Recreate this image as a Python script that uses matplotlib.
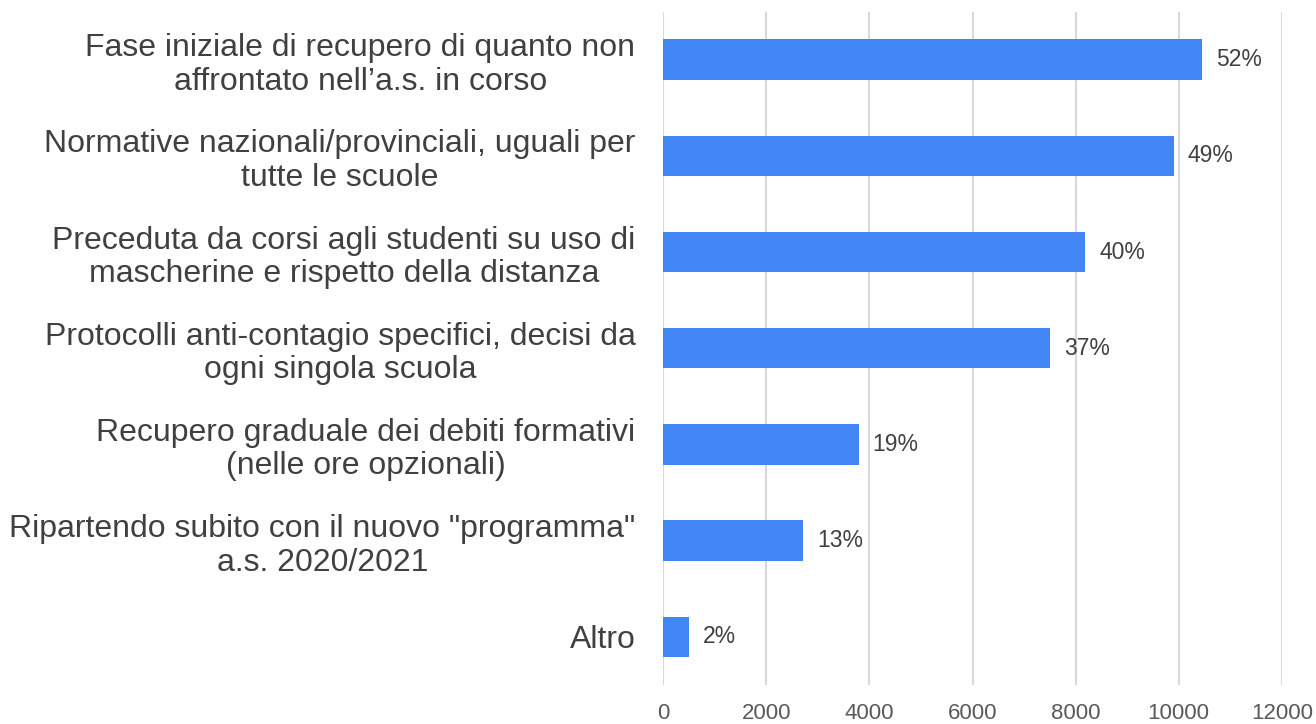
import matplotlib.pyplot as plt
import numpy as np

plt.rcParams['font.family'] = ['Liberation Sans', 'DejaVu Sans']

# Risposte (conteggi) e quota percentuale per modalita di ripartenza
categories = [
    "Fase iniziale di recupero di quanto non\naffrontato nell\u2019a.s. in corso",
    "Normative nazionali/provinciali, uguali per\ntutte le scuole",
    "Preceduta da corsi agli studenti su uso di\nmascherine e rispetto della distanza",
    "Protocolli anti-contagio specifici, decisi da\nogni singola scuola",
    "Recupero graduale dei debiti formativi\n(nelle ore opzionali)",
    "Ripartendo subito con il nuovo \"programma\"\na.s. 2020/2021",
    "Altro",
]
counts = [10450, 9900, 8190, 7510, 3790, 2720, 490]
percents = [52, 49, 40, 37, 19, 13, 2]
xticks = [0, 2000, 4000, 6000, 8000, 10000, 12000]

fig = plt.figure(figsize=(13.16, 7.24), dpi=100)
ax = fig.add_axes([0.504, 0.054, 0.470, 0.930])

y = np.arange(len(categories))
bars = ax.barh(y, counts, height=0.42, color='#4285F4', zorder=3)

for rect, pct in zip(bars, percents):
    ax.annotate(f"{pct}%", xy=(rect.get_width(), rect.get_y() + rect.get_height() / 2),
                xytext=(10, 0), textcoords='offset points',
                ha='left', va='center', fontsize=16.5, color='#404040')

ax.set_ylim(len(categories) - 0.5, -0.5)
ax.set_xlim(0, 12000)
ax.set_xticks(xticks)
ax.set_xticklabels([str(t) for t in xticks])
ax.set_yticks(y)
ax.set_yticklabels(categories, fontsize=23, color='#404040',
                   multialignment='center', linespacing=1.15)
ax.tick_params(axis='y', length=0, pad=20)
ax.tick_params(axis='x', length=0, pad=13, labelsize=16, labelcolor='#595959')

ax.grid(axis='x', color='#d9d9d9', linewidth=1.5, zorder=0)
for s in ax.spines.values():
    s.set_visible(False)

fig.savefig('out.png', dpi=100)
